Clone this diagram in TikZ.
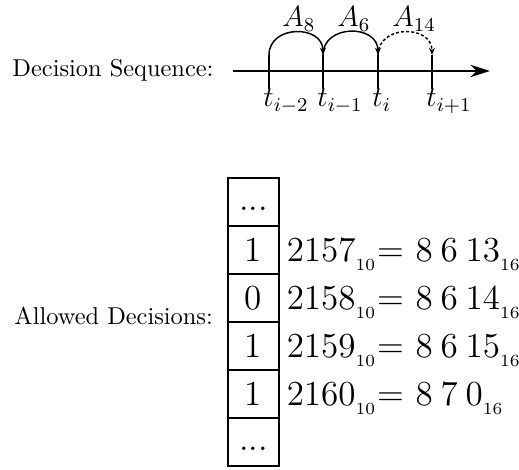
\documentclass[tikz,border=0pt]{standalone}
\usepackage{amsmath}
\usepackage{amssymb}
\usepackage{tikz}
\usetikzlibrary{arrows.meta,positioning}

\begin{document}
\begin{tikzpicture}[x=0.41pt, y=0.41pt,
    cell/.style={draw, thick, rectangle, minimum width=20.9pt, minimum height=19.7pt, inner sep=0pt, outer sep=0pt, font=\Large},
    dotcell/.style={cell, text height=6.6pt, text depth=0pt},
    val/.style={anchor=base west, inner sep=0pt, font=\Large, xshift=3pt},
    tlab/.style={anchor=base west, inner sep=0pt, font=\large},
    hop/.style={semithick, -{Stealth[length=3pt,width=2.5pt]}, out=90, in=90, looseness=1.45}]
    \useasboundingbox (0,0) rectangle (519,-470);

    % decision sequence
    \node[anchor=base west, inner sep=0pt] (seq) at (12,-77) {Decision Sequence:};
    \coordinate (ax0) at (233,-71);
    \coordinate (ax1) at (490,-71);
    \draw[very thick, -{Stealth[length=8pt,width=5pt]}] (ax0) -- (ax1);
    \foreach \x/\n/\lab in {269/1/{t_{i-2}}, 323/2/{t_{i-1}}, 378/3/{t_i}, 432/4/{t_{i+1}}} {
        \coordinate (top\n) at (\x,-55);
        \draw[very thick] (top\n) -- (\x,-89);
        \node[tlab] (t\n) at (\x-6,-107) {$\lab$};
    }
    \draw[hop] (top1) to (top2);
    \draw[hop] (top2) to (top3);
    \draw[hop, dash pattern=on 1.2pt off 0.9pt] (top3) to (top4);
    \node[tlab] (a8) at (282,-27) {$A_8$};
    \node[tlab] (a6) at (337,-27) {$A_6$};
    \node[tlab] (a14) at (392,-27) {$A_{14}$};

    % allowed decisions
    \node[dotcell] (c1) at (253.5,-202) {...};
    \node[cell, below=0pt of c1] (c2) {1};
    \node[cell, below=0pt of c2] (c3) {0};
    \node[cell, below=0pt of c3] (c4) {1};
    \node[cell, below=0pt of c4] (c5) {1};
    \node[dotcell, below=0pt of c5] (c6) {...};
    \node[anchor=base east, inner sep=0pt] (allowed) at ([xshift=-6pt,yshift=-0.8pt]c3.south west) {Allowed Decisions:};

    \node[val] (v2157) at (c2.base east) {$2157_{_{10}}$= $8\:6\:13_{_{16}}$};
    \node[val] (v2158) at (c3.base east) {$2158_{_{10}}$= $8\:6\:14_{_{16}}$};
    \node[val] (v2159) at (c4.base east) {$2159_{_{10}}$= $8\:6\:15_{_{16}}$};
    \node[val] (v2160) at (c5.base east) {$2160_{_{10}}$= $8\:7\:0_{_{16}}$};
\end{tikzpicture}
\end{document}
